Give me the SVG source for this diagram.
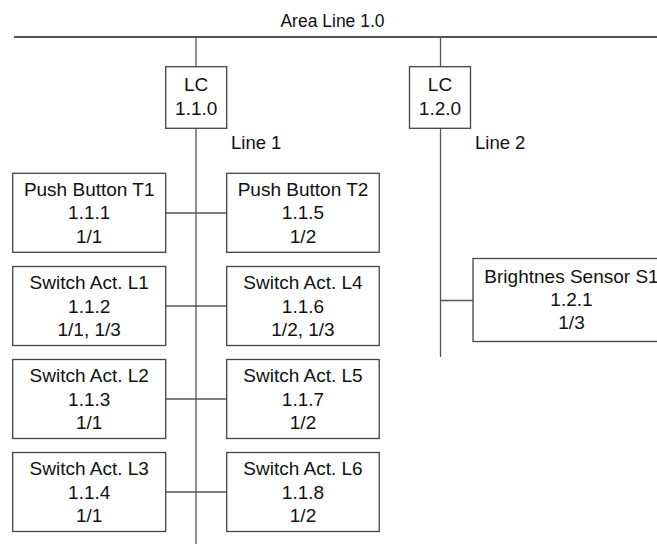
<svg xmlns="http://www.w3.org/2000/svg" width="657" height="544" viewBox="0 0 657 544">
  <style>
    .bus { stroke: #1a1a1a; stroke-width: 1.4; fill: none; }
    .wire { stroke: #555; stroke-width: 1.3; fill: none; }
    .box { fill: #fff; stroke: #444; stroke-width: 1.3; }
    text { font-family: "Liberation Sans", Arial, sans-serif; fill: #111; text-anchor: middle; }
    .node { font-size: 19px; }
    .label { font-size: 18.5px; text-anchor: start; }
    .title { font-size: 17.5px; }
  </style>
  <rect width="657" height="544" fill="#fff"/>

  <text class="title" x="332.5" y="26.5">Area Line 1.0</text>

  <!-- bus lines and stubs -->
  <g id="connectors">
    <line class="bus" x1="14" y1="37" x2="657" y2="37"/>
    <line class="wire" x1="196" y1="37" x2="196" y2="544"/>
    <line class="wire" x1="440.5" y1="37" x2="440.5" y2="357"/>
    <line class="wire" x1="165.7" y1="213" x2="226.7" y2="213"/>
    <line class="wire" x1="165.7" y1="306" x2="226.7" y2="306"/>
    <line class="wire" x1="165.7" y1="399" x2="226.7" y2="399"/>
    <line class="wire" x1="165.7" y1="492" x2="226.7" y2="492"/>
    <line class="wire" x1="440.5" y1="300.5" x2="473" y2="300.5"/>
  </g>

  <text class="label" x="231" y="149">Line 1</text>
  <text class="label" x="475" y="149">Line 2</text>

  <g id="lc-1-1-0">
    <rect class="box" x="165.7" y="66.7" width="61" height="61.6"/>
    <text class="node" x="196.2" y="91">LC</text>
    <text class="node" x="196.2" y="115">1.1.0</text>
  </g>
  <g id="lc-1-2-0">
    <rect class="box" x="409.5" y="66.7" width="61" height="61.6"/>
    <text class="node" x="440" y="91">LC</text>
    <text class="node" x="440" y="115">1.2.0</text>
  </g>

  <g id="t1">
    <rect class="box" x="12.7" y="173.3" width="153" height="79"/>
    <text class="node" x="89.2" y="195.8">Push Button T1</text>
    <text class="node" x="89.2" y="219.3">1.1.1</text>
    <text class="node" x="89.2" y="242.5">1/1</text>
  </g>
  <g id="t2">
    <rect class="box" x="226.7" y="173.3" width="152.5" height="79"/>
    <text class="node" x="303" y="195.8">Push Button T2</text>
    <text class="node" x="303" y="219.3">1.1.5</text>
    <text class="node" x="303" y="242.5">1/2</text>
  </g>

  <g id="l1">
    <rect class="box" x="12.7" y="266.5" width="153" height="79"/>
    <text class="node" x="89.2" y="289">Switch Act. L1</text>
    <text class="node" x="89.2" y="312.5">1.1.2</text>
    <text class="node" x="89.2" y="335.7">1/1, 1/3</text>
  </g>
  <g id="l4">
    <rect class="box" x="226.7" y="266.5" width="152.5" height="79"/>
    <text class="node" x="303" y="289">Switch Act. L4</text>
    <text class="node" x="303" y="312.5">1.1.6</text>
    <text class="node" x="303" y="335.7">1/2, 1/3</text>
  </g>

  <g id="l2">
    <rect class="box" x="12.7" y="359.5" width="153" height="79"/>
    <text class="node" x="89.2" y="382">Switch Act. L2</text>
    <text class="node" x="89.2" y="405.5">1.1.3</text>
    <text class="node" x="89.2" y="428.7">1/1</text>
  </g>
  <g id="l5">
    <rect class="box" x="226.7" y="359.5" width="152.5" height="79"/>
    <text class="node" x="303" y="382">Switch Act. L5</text>
    <text class="node" x="303" y="405.5">1.1.7</text>
    <text class="node" x="303" y="428.7">1/2</text>
  </g>

  <g id="l3">
    <rect class="box" x="12.7" y="452.5" width="153" height="79"/>
    <text class="node" x="89.2" y="475">Switch Act. L3</text>
    <text class="node" x="89.2" y="498.5">1.1.4</text>
    <text class="node" x="89.2" y="521.7">1/1</text>
  </g>
  <g id="l6">
    <rect class="box" x="226.7" y="452.5" width="152.5" height="79"/>
    <text class="node" x="303" y="475">Switch Act. L6</text>
    <text class="node" x="303" y="498.5">1.1.8</text>
    <text class="node" x="303" y="521.7">1/2</text>
  </g>

  <g id="s1">
    <rect class="box" x="473" y="258.5" width="197" height="83"/>
    <text class="node" x="571.5" y="282.5">Brightnes Sensor S1</text>
    <text class="node" x="571.5" y="305.5">1.2.1</text>
    <text class="node" x="571.5" y="328.7">1/3</text>
  </g>
</svg>
